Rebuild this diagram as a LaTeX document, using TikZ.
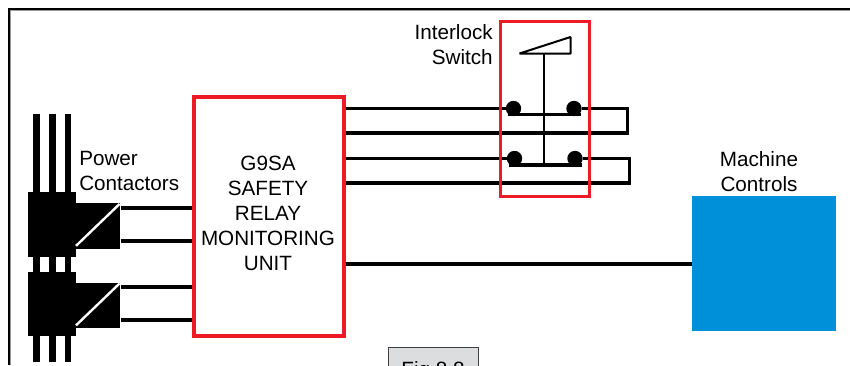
\documentclass[tikz,border=0pt]{standalone}
\usepackage{fontspec}
\setmainfont{Liberation Sans}
\usetikzlibrary{positioning,calc}
\definecolor{relayred}{RGB}{237,28,36}
\definecolor{ctrlblue}{RGB}{0,144,218}
\definecolor{figgray}{RGB}{220,221,222}
\tikzset{every node/.append style={font=\fontsize{15.5}{18.8}\selectfont}}
\begin{document}
\begin{tikzpicture}[x=0.75pt,y=-0.75pt]
		\tikzstyle{redbox} = [rectangle, draw=relayred, line width=2.6pt, inner sep=0pt, align=center];
		\tikzstyle{ctrlbox} = [rectangle, fill=ctrlblue, inner sep=0pt];
		\tikzstyle{figbox} = [rectangle, draw=black!75, fill=figgray, line width=0.75pt, inner sep=0pt];
		\tikzstyle{blackblock} = [rectangle, fill=black, inner sep=0pt];
		\tikzstyle{bar} = [rectangle, fill=black, inner sep=0pt, minimum width=5.2pt];
		\tikzstyle{contact} = [circle, fill=black, inner sep=0pt, minimum size=11.5pt];
		\tikzstyle{desc} = [inner sep=0pt, align=left];
		\tikzstyle{wire} = [line width=2.3pt, line join=miter];
		\useasboundingbox (0,0) rectangle (850,365);
		\clip (0,0) rectangle (850,365);
		\draw[line width=0.75pt, black!40] (850,10) -| (10,365);
		\draw[line width=1.5pt] (850,8.5) -| (8.5,365);
		% fig tag, cut off by the page edge
		\node (figtag) [figbox, minimum width=67.5pt, minimum height=30pt, anchor=north west] at (388,347) {};
		\node (figtext) [anchor=base] at (433,376) {Fig 8.8};
		% relay and machine controls
		\node (relay) [redbox, minimum width=112.5pt, minimum height=179pt] at (269,216.5) {};
		\node (relayd) [desc, align=center] at (268,213.5) {G9SA\\SAFETY\\RELAY\\MONITORING\\UNIT};
		\node (ctrl) [ctrlbox, minimum width=108pt, minimum height=101.25pt] at (764,263.5) {};
		\node (ctrld) [desc, align=center, above=2.5pt of ctrl, xshift=-3.75pt] {Machine\\Controls};
		\draw[wire] (relay.east |- 0,264) -- (ctrl.west |- 0,264);
		% contactors
		\foreach \name/\ytop in {k1/192,k2/271.5} {
			\node (\name) [blackblock, minimum width=36pt, minimum height=48.5pt, anchor=north west] at (28,\ytop) {};
			\node (\name s) [blackblock, minimum width=33pt, minimum height=34pt, anchor=north west] at (76,\ytop+11) {};
			\draw[white, line width=1.8pt] ($(\name s.south west)+(0,-3)$) -- ($(\name s.north east)+(-1,1)$);
		}
		\foreach \x in {36.5,52.5,68} {
			\node[bar, minimum height=58pt, anchor=south] (top\x) at (\x,192) {};
			\node[bar, minimum height=12pt, anchor=south] (mid\x) at (\x,272) {};
			\node[bar, minimum height=19pt, anchor=north] (bot\x) at (\x,336) {};
		}
		\node (powerd) [desc, anchor=north west] at (79,151) {Power\\Contactors};
		\foreach \y in {208,241} \draw[wire] (k1s.east |- 0,\y) -- (relay.west |- 0,\y);
		\foreach \y in {287,320} \draw[wire] (k2s.east |- 0,\y) -- (relay.west |- 0,\y);
		% interlock wires and contacts
		\node (c1) [contact] at (513.5,108.5) {};
		\node (c2) [contact] at (574,108.5) {};
		\node (c3) [contact] at (514.5,158.5) {};
		\node (c4) [contact] at (575,158.5) {};
		\coordinate (loopa) at (627.5,108.5);
		\coordinate (loopb) at (629.5,158.5);
		\draw[wire] (relay.east |- c1) -- (c1);
		\draw[wire] (c2) -- (loopa) -- (loopa |- 0,133) -- (relay.east |- 0,133);
		\draw[wire] (relay.east |- c3) -- (c3);
		\draw[wire] (c4) -- (loopb) -- (loopb |- 0,183) -- (relay.east |- 0,183);
		\draw[wire] (508,114.5) -- (581,114.5);
		\draw[wire] (509,165) -- (582,165);
		\draw[line width=1.5pt, line join=bevel] (519.5,53.5) -- (570.5,37) -- (570.5,53.5) -- cycle;
		\draw[line width=1.5pt] (543.5,53.5) -- (543.5,165);
		\node (switch) [redbox, minimum width=66.5pt, minimum height=131.5pt] at (545,109) {};
		\node (switchd) [desc, align=right, anchor=north east] at (493,24) {Interlock\\Switch};
\end{tikzpicture}
\end{document}
